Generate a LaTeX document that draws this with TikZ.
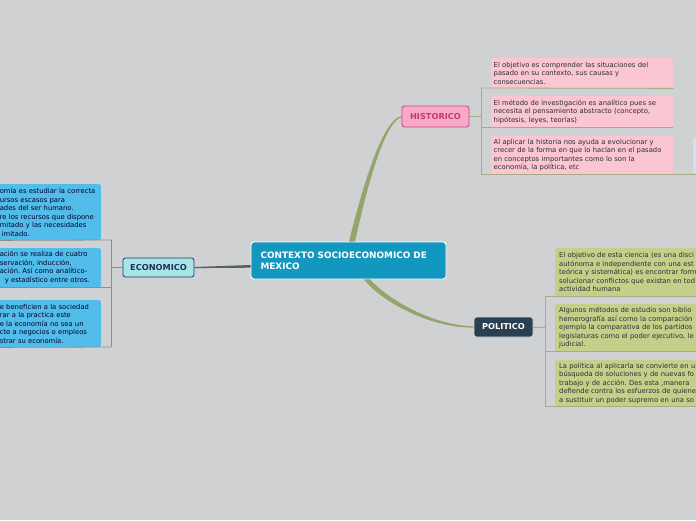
\documentclass[tikz,border=0pt]{standalone}
\usepackage{fontspec}
\setmainfont{DejaVu Sans}
\frenchspacing
\usetikzlibrary{calc}
\definecolor{bg}{RGB}{208,209,211}
\definecolor{cblue}{RGB}{18,152,190}
\definecolor{hfill}{RGB}{247,170,200}
\definecolor{hdraw}{RGB}{200,70,120}
\definecolor{htext}{RGB}{200,55,105}
\definecolor{hbox}{RGB}{249,198,210}
\definecolor{efill}{RGB}{168,230,228}
\definecolor{edraw}{RGB}{30,55,130}
\definecolor{etext}{RGB}{30,45,100}
\definecolor{ebox}{RGB}{82,189,235}
\definecolor{pfill}{RGB}{42,64,80}
\definecolor{pbox}{RGB}{196,208,138}
\definecolor{oline}{RGB}{165,173,135}
\definecolor{gline}{RGB}{140,140,140}
\definecolor{branch}{RGB}{150,163,107}
\definecolor{edark}{RGB}{90,95,90}
\definecolor{lblue}{RGB}{200,228,245}
\definecolor{btext}{RGB}{45,45,50}
\tikzset{
  central/.style={rounded corners=3pt, fill=cblue, draw=white, line width=0.9pt,
    minimum width=195pt, minimum height=37pt, text width=176pt, align=left,
    inner xsep=9.5pt, text=white, font=\bfseries\fontsize{8.9}{11}\selectfont},
  topic/.style={rounded corners=2.5pt, line width=0.8pt, inner sep=0pt,
    font=\bfseries\fontsize{8.2}{9}\selectfont},
  histnode/.style={topic, fill=hfill, draw=hdraw, text=htext, minimum width=67pt, minimum height=21pt},
  econnode/.style={topic, fill=efill, draw=edraw, text=etext, minimum width=71pt, minimum height=19pt},
  polnode/.style={topic, fill=pfill, draw=white!85!black, text=white, minimum width=59pt, minimum height=20pt},
  txtbox/.style={rounded corners=1.5pt, align=left, inner ysep=0pt, text=btext,
    font=\fontsize{6.8}{8.5}\selectfont},
  hbx/.style={txtbox, fill=hbox, anchor=north west, text width=177pt, inner xsep=2.5pt},
  ebx/.style={txtbox, fill=ebox, anchor=north east, text width=99pt, inner xsep=2pt, text=black!85!blue},
  pbx/.style={txtbox, fill=pbox, anchor=north west, text width=185pt, inner xsep=4pt},
  olv/.style={draw=oline, line width=0.8pt},
  gry/.style={draw=gline, line width=0.8pt},
}
\begin{document}
\begin{tikzpicture}[x=1pt,y=-1pt]
\useasboundingbox (0,0) rectangle (696,520);
\fill[bg] (0,0) rectangle (696,520);
\clip (0,0) rectangle (696,520);

% main nodes
\node[central] (c) at (348.5,260.5) {CONTEXTO SOCIOECONOMICO DE\\MEXICO};
\node[histnode] (hist) at (435.5,116.5) {HISTORICO};
\node[econnode] (econ) at (158.5,267.5) {ECONOMICO};
\node[polnode] (pol) at (503.5,327) {POLITICO};

% branches
\fill[branch] ($(c.north)+(0.5,0)$) .. controls (356,214) and (379,120) .. ($(hist.west)+(0,-0.6)$)
  -- ($(hist.west)+(0,0.6)$) .. controls (381,123) and (361,215) .. ($(c.north)+(6.5,0)$) -- cycle;
\fill[branch] ($(c.south)+(15.5,0)$) .. controls (382,302) and (430,328) .. ($(pol.west)+(0,0.6)$)
  -- ($(pol.west)+(0,-0.6)$) .. controls (432,325) and (389,300) .. ($(c.south)+(21.5,0)$) -- cycle;
\fill[edark] ($(c.west)+(0,4.5)$) -- ($(econ.east)+(0,-0.5)$) -- ($(econ.east)+(0,0.6)$) -- ($(c.west)+(0,7.2)$) -- cycle;

% historico boxes
\node[hbx, minimum height=30pt] (hb1) at (491,58) {El objetivo es comprender las situaciones del\\pasado en su contexto, sus causas y\\consecuencias.};
\node[hbx, minimum height=31pt] (hb2) at (491,96) {El método de investigación es analítico pues se\\necesita el pensamiento abstracto (concepto,\\hipótesis, leyes, teorías)};
\node[hbx, minimum height=38pt] (hb3) at (491,136) {Al aplicar la historia nos ayuda a evolucionar y\\crecer de la forma en que lo hacían en el pasado\\en conceptos importantes como lo son la\\economía, la política, etc};
\node[fill=lblue, anchor=north west, minimum width=12pt, minimum height=36pt, inner sep=0pt] (hx) at (693,137) {};
\coordinate (hv1) at (481,88);
\coordinate (hv3) at (481,174);
\coordinate (hend) at (700,174);
\draw[olv] (hist.east) -- (hist.east -| hv1);
\draw[olv] (hv1) -- (hv3);
\draw[olv] (hv1) -- (hb1.south east);
\draw[olv] (hv1 |- hb2.south) -- (hb2.south east);
\draw[olv] (hv3) -- (hend);

% economico boxes
\node[ebx, minimum height=56pt] (eb1) at (101,184) {omía es estudiar la correcta\\ursos escasos para\\ades del ser humano.\\re los recursos que dispone\\mitado y las necesidades\\\hspace*{2pt}imitado.};
\node[ebx, minimum height=39pt] (eb2) at (101,248) {ación se realiza de cuatro\\servación, inducción,\\ación. Así como analítico-\\\hspace*{5pt}y estadístico entre otros.};
\node[ebx, minimum height=47pt] (eb3) at (101,300) {e beneficien a la sociedad\\rar a la practica este\\e la economía no sea un\\cte a negocios o empleos\\strar su economía.};
\coordinate (ev1) at (111,240);
\coordinate (ev3) at (111,347);
\draw[gry] (econ.west) -- (econ.west -| ev1);
\draw[gry] (ev1) -- (ev3);
\draw[gry] (eb1.south west) -- (ev1);
\draw[gry] (eb2.south west) -- (eb2.south west -| ev1);
\draw[gry] (eb3.south west) -- (ev3);

% politico boxes
\node[pbx, minimum height=48pt] (pb1) at (555,248) {El objetivo de esta ciencia (es una disci\\autónoma e independiente con una est\\teórica y sistemática) es encontrar form\\solucionar conflictos que existan en tod\\actividad humana};
\node[pbx, minimum height=47pt] (pb2) at (555,304) {Algunos métodos de estudio son biblio\\hemerografía así como la comparación\\ejemplo la comparativa de los partidos\\legislaturas como el poder ejecutivo, le\\judicial.};
\node[pbx, minimum height=46pt] (pb3) at (555,360) {La política al aplicarla se convierte en u\\búsqueda de soluciones y de nuevas fo\\trabajo y de acción. Des esta ,manera\\defiende contra los esfuerzos de quiene\\a sustituir un poder supremo en una so};
\coordinate (pv1) at (545,296);
\coordinate (pv3) at (545,406);
\coordinate (pe1) at (700,296);
\coordinate (pe2) at (700,351);
\coordinate (pe3) at (700,406);
\draw[olv] (pol.east) -- (pol.east -| pv1);
\draw[olv] (pv1) -- (pv3);
\draw[olv] (pv1) -- (pe1);
\draw[olv] (pv1 |- pe2) -- (pe2);
\draw[olv] (pv3) -- (pe3);
\end{tikzpicture}
\end{document}
